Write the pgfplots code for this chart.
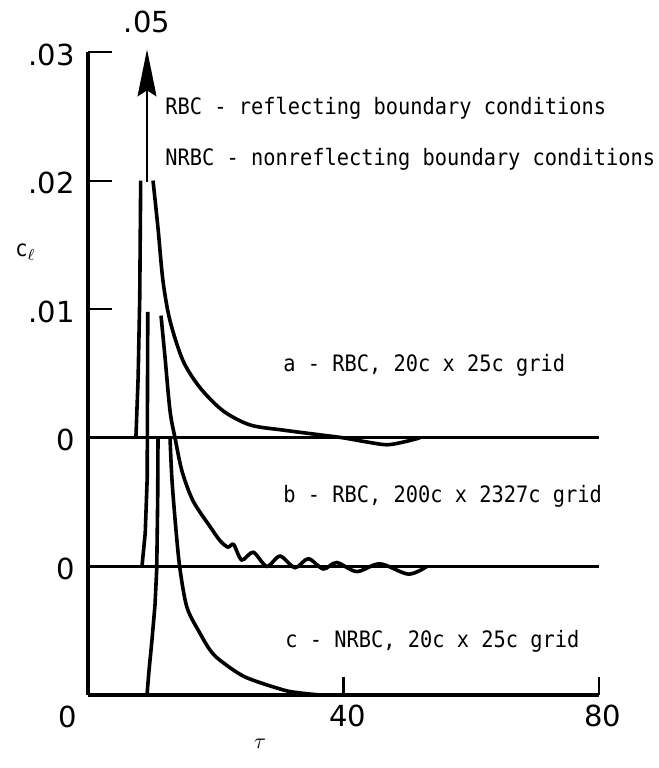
\documentclass[border=0pt]{standalone}
\usepackage{fontspec}
\usepackage{pgfplots}
\pgfplotsset{compat=1.18}
\usetikzlibrary{arrows.meta}
\newfontfamily\ticfont{DejaVu Sans}
\newfontfamily\annfont{DejaVu Sans Mono}[FakeStretch=0.9]
\newcommand{\tf}{\ticfont\fontsize{14.5bp}{15bp}\selectfont}
\newcommand{\af}{\annfont\fontsize{11.3bp}{12bp}\selectfont}
\begin{document}
\begin{tikzpicture}
\useasboundingbox (0,0) rectangle (329.5bp,384bp);
\begin{axis}[
  at={(44bp,36.5bp)}, anchor=south west,
  scale only axis, width=255.5bp, height=321.5bp,
  xmin=0, xmax=80, ymin=-0.02, ymax=0.03,
  axis x line=bottom, axis y line=left,
  axis line style={-, line width=1.7bp},
  xtick={40,80}, xticklabels={40,80},
  minor xtick={40,80},
  ytick={-0.01,0,0.01,0.02,0.03}, yticklabels={0,0,.01,.02,.03},
  scaled y ticks=false, scaled x ticks=false,
  tick align=inside, major tick length=12bp, minor tick length=9bp,
  major x tick style={draw=none},
  minor x tick style={line width=1.1bp, black},
  ytick style={line width=1.1bp, black},
  clip=false,
  ticklabel style={font=\tf, inner sep=0pt},
  xticklabel style={anchor=base, yshift=-16bp, xshift=2bp},
  yticklabel style={anchor=base east, xshift=-6.5bp, yshift=-6.5bp},
  cv/.style={black, solid, no markers, line width=1.8bp},
  bl/.style={black, solid, no markers, line width=1.6bp},
]
% baselines
\addplot[bl] coordinates {(0,0) (80,0)};
\addplot[bl] coordinates {(0,-0.01) (80,-0.01)};
% curve a (RBC, 20c x 25c)
\addplot[cv] table[x=tau, y=cl] {
tau cl
7.5 0
7.85 0.0047
8.1 0.0109
8.25 0.0200
};
\addplot[cv, smooth] table[x=tau, y=cl] {
tau cl
10.18 0.0200
10.96 0.0163
11.74 0.0122
12.84 0.0091
14.87 0.0060
17.53 0.0039
21.14 0.0021
25.36 0.0010
30.53 0.0006
36.32 0.00023
39.92 0
43.37 -0.0003
46.81 -0.00054
49.63 -0.0003
51.98 0
};
% curve b (RBC, 200c x 2327c)
\addplot[cv] table[x=tau, y expr=\thisrow{cl}-0.01] {
tau cl
8.45 0
8.96 0.0026
9.27 0.0069
9.31 0.0132
9.36 0.0198
};
\addplot[cv, smooth] table[x=tau, y expr=\thisrow{cl}-0.01] {
tau cl
11.43 0.0195
12.05 0.0163
12.84 0.0121
13.62 0.0100
14.72 0.0074
16.44 0.0051
19.10 0.0031
20.67 0.0020
21.90 0.0015
22.80 0.0017
24.06 0.0005
25.88 0.0011
27.98 0.0000
30.06 0.0008
32.41 -0.0001
34.49 0.0006
36.84 -0.0002
38.94 0.0003
42.07 -0.0004
45.71 0.0002
50.15 -0.0006
53.07 0
};
% curve c (NRBC, 20c x 25c)
\addplot[cv] table[x=tau, y expr=\thisrow{cl}-0.02] {
tau cl
9.24 0
9.55 0.0019
10.02 0.0043
10.49 0.0070
10.76 0.0098
10.91 0.0152
10.96 0.0200
};
\addplot[cv, smooth] table[x=tau, y expr=\thisrow{cl}-0.02] {
tau cl
12.84 0.0200
13.15 0.0167
13.78 0.0128
14.40 0.0098
15.50 0.0068
17.53 0.0048
19.10 0.0035
20.67 0.0027
24.6 0.0014
30.53 0.0004
33.19 0.00016
36.32 0
};
\draw[line width=0.7bp, -{Stealth[length=23.5bp, width=9.5bp, inset=3bp]}]
  (axis cs:9.24,0.0199) -- (axis cs:9.24,0.0302);
\end{axis}
\node[anchor=base, font=\tf, inner sep=0pt] at (73.5bp,367.5bp) {.05};
\node[anchor=base, font=\tf, inner sep=0pt] at (34bp,20.5bp) {0};
\node[anchor=base west, font=\af, inner sep=0pt] at (82.5bp,326.5bp) {RBC - reflecting boundary conditions};
\node[anchor=base west, font=\af, inner sep=0pt] at (82.5bp,301bp) {NRBC - nonreflecting boundary conditions};
\node[anchor=base west, font=\af, inner sep=0pt] at (141.5bp,198bp) {a - RBC, 20c x 25c grid};
\node[anchor=base west, font=\af, inner sep=0pt] at (141.5bp,132.5bp) {b - RBC, 200c x 2327c grid};
\node[anchor=base west, font=\af, inner sep=0pt] at (142.5bp,60bp) {c - NRBC, 20c x 25c grid};
\node[anchor=base west, font=\af, inner sep=0pt] at (7.5bp,255.5bp) {c$_{\ell}$};
\node[anchor=base, inner sep=0pt, font=\fontsize{11bp}{12bp}\selectfont] at (130bp,10bp) {$\tau$};
\end{tikzpicture}
\end{document}
